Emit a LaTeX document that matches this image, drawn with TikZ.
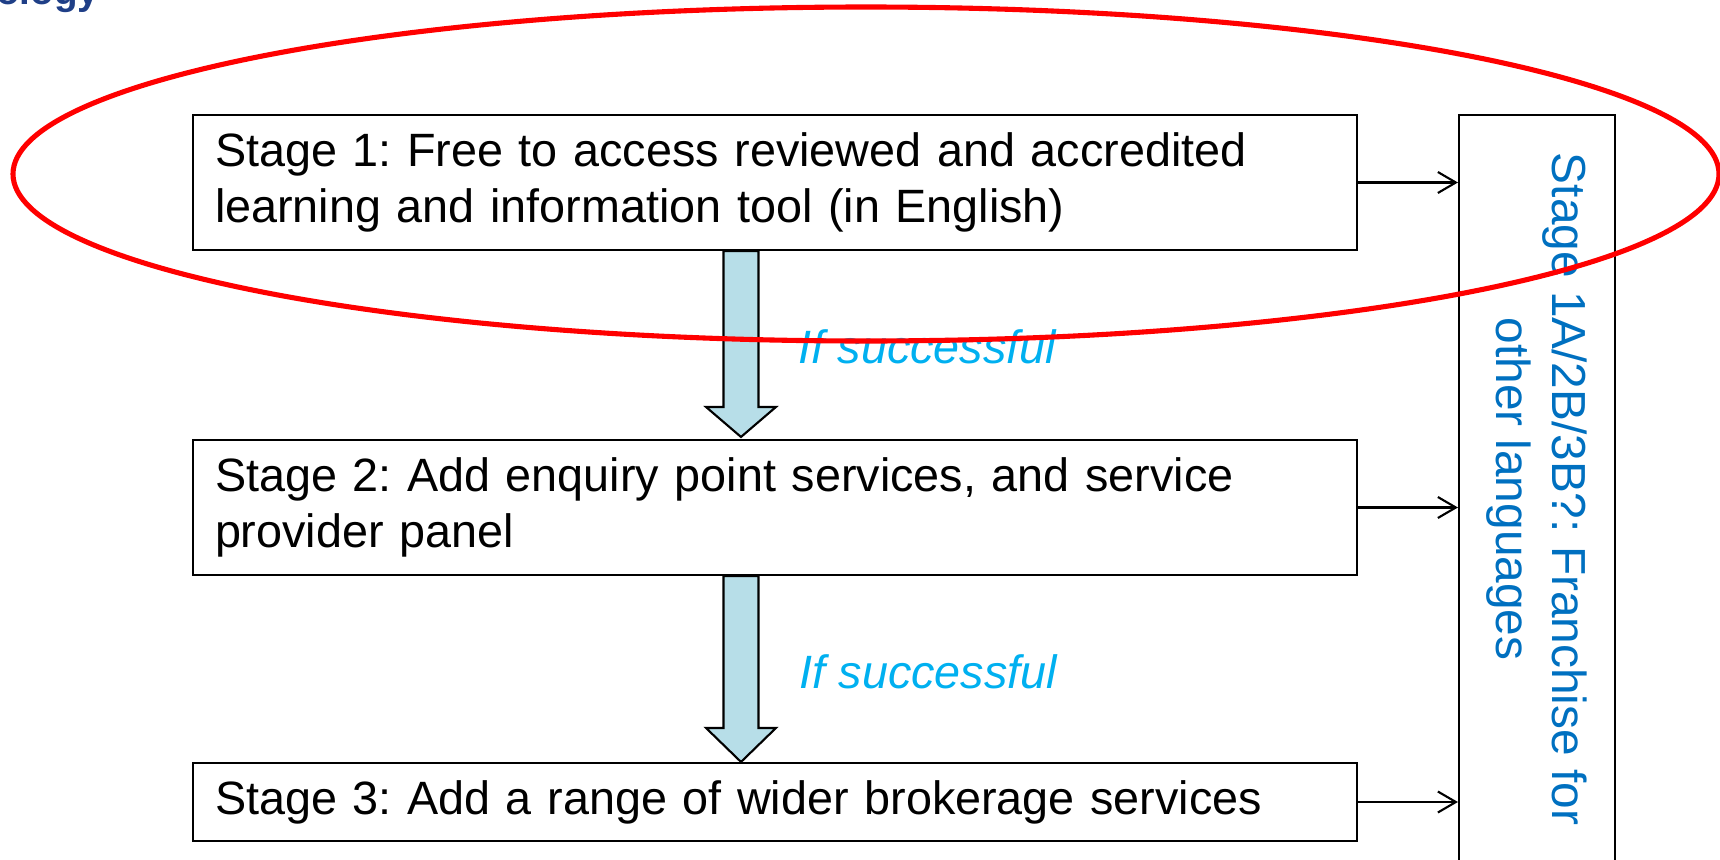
\documentclass[tikz,border=0pt]{standalone}
\usepackage{fontspec}
\setmainfont{Liberation Sans}
\usepackage{xcolor}
\usetikzlibrary{arrows.meta}
\usetikzlibrary{calc}

\definecolor{stageblue}{RGB}{0,112,192}
\definecolor{noteblue}{RGB}{0,176,240}
\definecolor{arrowfill}{RGB}{183,222,232}
\definecolor{logoblue}{RGB}{31,63,135}

\frenchspacing

\begin{document}
\begin{tikzpicture}[
	stagebox/.style={draw=black, line width=0.6pt, text width=11.2cm, inner xsep=0.22cm, inner ysep=0pt, align=left, font=\fontsize{13.3}{15.9}\selectfont},
	sidebox/.style={draw=black, line width=0.6pt, align=center, text=stageblue, font=\fontsize{13.6}{15.9}\selectfont},
	bigarrow/.style={draw=black, line width=0.6pt, fill=arrowfill},
	sidearrow/.style={-{Straight Barb[length=1.8mm,width=2.1mm]}, line width=0.6pt},
	ifnote/.style={text=noteblue, font=\fontsize{13.3}{15.9}\selectfont\itshape, inner sep=0pt}]

	\useasboundingbox (0,0) rectangle (17.2,-8.6);

	% logo remains
	\node[anchor=base east, inner sep=0pt, text=logoblue, font=\fontsize{11}{12}\selectfont\bfseries] (logo) at (1.0,-0.04) {ology};

	% Stage boxes
	\node[stagebox, minimum height=1.35cm] (s1) at (7.75,-1.825) {Stage 1: Free to access reviewed and accredited learning and information tool (in English)};
	\node[stagebox, minimum height=1.35cm] (s2) at (7.75,-5.075) {Stage 2: Add enquiry point services, and service provider panel};
	\node[stagebox, minimum height=0.78cm] (s3) at (7.75,-8.02) {Stage 3: Add a range of wider brokerage services};

	% Franchise box
	\node[sidebox, rotate=-90, minimum width=7.48cm, minimum height=1.56cm] (fr) at (15.37,-4.89) {Stage 1A/2B/3B?: Franchise for\\other languages};

	% Arrows to franchise box
	\draw[sidearrow] (s1.east) -- (s1.east -| fr.south);
	\draw[sidearrow] (s2.east) -- (s2.east -| fr.south);
	\draw[sidearrow] (s3.east) -- (s3.east -| fr.south);

	% Big arrows
	\coordinate (axis) at (7.41,0);
	\draw[bigarrow] let \p1=(s1.south -| axis), \p2=(s2.north -| axis) in
		(\x1-1.75mm,\y1) -- (\x1-1.75mm,\y2+3.2mm) -- (\x1-3.5mm,\y2+3.2mm) -- (\x1,\y2+0.2mm)
		-- (\x1+3.5mm,\y2+3.2mm) -- (\x1+1.75mm,\y2+3.2mm) -- (\x1+1.75mm,\y1) -- cycle;
	\draw[bigarrow] let \p1=(s2.south -| axis), \p2=(s3.north -| axis) in
		(\x1-1.75mm,\y1) -- (\x1-1.75mm,\y2+3.4mm) -- (\x1-3.5mm,\y2+3.4mm) -- (\x1,\y2)
		-- (\x1+3.5mm,\y2+3.4mm) -- (\x1+1.75mm,\y2+3.4mm) -- (\x1+1.75mm,\y1) -- cycle;

	% Notes
	\node[ifnote, anchor=base west] (n1) at (7.98,-3.63) {If successful};
	\node[ifnote, anchor=base west] (n2) at (7.99,-6.88) {If successful};

	% Highlight
	\draw[red, line width=1.45pt] (8.66,-1.74) ellipse (8.53cm and 1.67cm);

\end{tikzpicture}
\end{document}
